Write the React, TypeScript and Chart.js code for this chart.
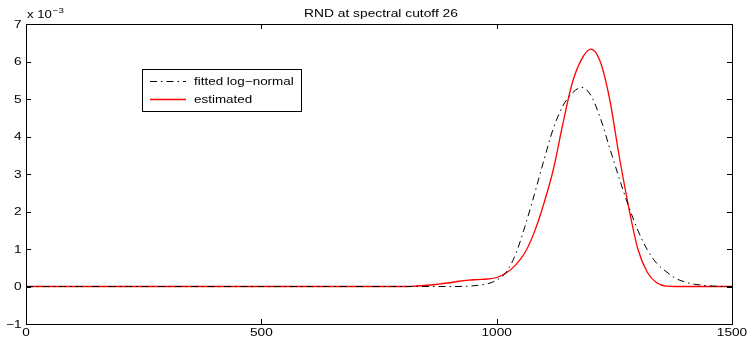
import React, { useEffect, useRef } from "react";
import { Chart, registerables } from "chart.js";

Chart.register(...registerables);

// x positions of the samples
const X_VALUES = [
  0, 100, 200, 300, 400, 500, 600, 700,
  800, 820, 840, 860, 880, 900, 920, 940, 960, 980,
  1000, 1020, 1040, 1060, 1080, 1100, 1120, 1140, 1160, 1180,
  1200, 1220, 1240, 1260, 1280, 1300, 1320, 1340, 1360, 1380,
  1400, 1420, 1440, 1460, 1480, 1500,
];

// values in units of 1e-3
const FITTED = [
  0, 0, 0, 0, 0, 0, 0, 0,
  0, 0, 0, 0, 0, 0, 0, 0.01, 0.03, 0.07,
  0.17, 0.38, 0.85, 1.6, 2.45, 3.35, 4.2, 4.8, 5.15, 5.31,
  5.1, 4.5, 3.7, 2.9, 2.15, 1.5, 0.98, 0.62, 0.4, 0.22,
  0.12, 0.06, 0.03, 0.01, 0, 0,
];

const ESTIMATED = [
  0, 0, 0, 0, 0, 0, 0, 0,
  0, 0.005, 0.02, 0.04, 0.07, 0.1, 0.14, 0.17, 0.185, 0.2,
  0.24, 0.36, 0.57, 0.9, 1.45, 2.2, 3.1, 4.3, 5.4, 6.05,
  6.33, 6.0, 5.0, 3.5, 2.15, 1.0, 0.38, 0.1, 0.01, 0,
  0, 0, 0, 0, 0, 0,
];

const X_TICKS = [0, 500, 1000, 1500];
const Y_TICKS = [-1, 0, 1, 2, 3, 4, 5, 6, 7];
const TITLE = "RND at spectral cutoff 26";
const EXPONENT_BASE = "x 10";
const EXPONENT = "\u22123";
const SERIES_LABELS = ["fitted log\u2212normal", "estimated"];

const FONT = "'Liberation Sans', Arial, Helvetica, sans-serif";

function stretchedText(
  ctx: CanvasRenderingContext2D,
  text: string,
  x: number,
  y: number,
  size: number,
  sx: number,
  align: "left" | "right" | "center",
  baseline: CanvasTextBaseline
) {
  ctx.save();
  ctx.font = `${size}px ${FONT}`;
  ctx.textBaseline = baseline;
  ctx.textAlign = "left";
  const w = ctx.measureText(text).width * sx;
  let left = x;
  if (align === "center") left = x - w / 2;
  else if (align === "right") left = x - w;
  ctx.translate(left, y);
  ctx.scale(sx, 1);
  ctx.fillText(text, 0, 0);
  ctx.restore();
  return w;
}

const fmt = (v: number) => String(v).replace("-", "\u2212");

const decorPlugin = {
  id: "decor",
  afterDraw(chart: any) {
    const { ctx, chartArea: a, scales } = chart;
    ctx.save();
    // frame
    ctx.strokeStyle = "#000";
    ctx.lineWidth = 1;
    ctx.strokeRect(Math.round(a.left) + 0.5, Math.round(a.top) + 0.5,
      Math.round(a.right - a.left), Math.round(a.bottom - a.top));
    // inward ticks on all four sides
    const tl = 5;
    ctx.beginPath();
    X_TICKS.forEach((v) => {
      const px = Math.round(scales.x.getPixelForValue(v)) + 0.5;
      ctx.moveTo(px, a.bottom);
      ctx.lineTo(px, a.bottom - tl);
      ctx.moveTo(px, a.top);
      ctx.lineTo(px, a.top + tl);
    });
    Y_TICKS.forEach((v) => {
      const py = Math.round(scales.y.getPixelForValue(v)) + 0.5;
      ctx.moveTo(a.left, py);
      ctx.lineTo(a.left + tl, py);
      ctx.moveTo(a.right, py);
      ctx.lineTo(a.right - tl, py);
    });
    ctx.stroke();

    ctx.fillStyle = "#000";
    // tick labels
    X_TICKS.forEach((v) => {
      const px = scales.x.getPixelForValue(v);
      stretchedText(ctx, fmt(v), px, a.bottom + 9.5, 10.5, 1.3, "center", "middle");
    });
    Y_TICKS.forEach((v) => {
      const py = scales.y.getPixelForValue(v);
      stretchedText(ctx, fmt(v), a.left - 4.5, py + 1, 10.5, 1.3, "right", "middle");
    });

    // title
    stretchedText(ctx, TITLE, (a.left + a.right) / 2 + 2, 17.3, 11.5, 1.2, "center", "alphabetic");

    // exponent label
    const w = stretchedText(ctx, EXPONENT_BASE, a.left + 1, 18.3, 10.5, 1.25, "left", "alphabetic");
    stretchedText(ctx, EXPONENT, a.left + 2 + w, 13, 8, 1.2, "left", "alphabetic");

    // legend
    const lx = 142, ly = 69, lw = 159, lh = 42;
    ctx.fillStyle = "#fff";
    ctx.fillRect(lx, ly, lw, lh);
    ctx.strokeStyle = "#000";
    ctx.lineWidth = 1;
    ctx.strokeRect(lx + 0.5, ly + 0.5, lw, lh);
    const ds = chart.data.datasets;
    const lineRows = [81, 99];
    const textRows = [85, 102.7];
    ds.forEach((d: any, i: number) => {
      const y = lineRows[i] + 0.5;
      ctx.save();
      ctx.strokeStyle = d.borderColor;
      ctx.lineWidth = d.borderWidth;
      ctx.setLineDash(d.borderDash || []);
      ctx.beginPath();
      ctx.moveTo(150, y);
      ctx.lineTo(186, y);
      ctx.stroke();
      ctx.restore();
      ctx.fillStyle = "#000";
      stretchedText(ctx, d.label, 194, textRows[i], 10.5, 1.28, "left", "alphabetic");
    });
    ctx.restore();
  },
};

export default function App() {
  const ref = useRef<HTMLCanvasElement | null>(null);

  useEffect(() => {
    document.body.style.margin = "0";
    const canvas = ref.current;
    if (!canvas) return;
    const chart = new Chart(canvas, {
      type: "line",
      data: {
        datasets: [
          {
            label: SERIES_LABELS[0],
            data: X_VALUES.map((x, i) => ({ x, y: FITTED[i] })),
            borderColor: "#000000",
            borderWidth: 1,
            borderDash: [7, 4, 1.5, 4],
            pointRadius: 0,
            cubicInterpolationMode: "monotone",
            fill: false,
          },
          {
            label: SERIES_LABELS[1],
            data: X_VALUES.map((x, i) => ({ x, y: ESTIMATED[i] })),
            borderColor: "#ff0000",
            borderWidth: 1.3,
            pointRadius: 0,
            cubicInterpolationMode: "monotone",
            fill: false,
          },
        ],
      },
      options: {
        animation: false,
        responsive: true,
        maintainAspectRatio: false,
        layout: { padding: { top: 24, right: 15, left: 0, bottom: 0 } },
        plugins: {
          legend: { display: false },
          title: { display: false },
          tooltip: { enabled: false },
        },
        scales: {
          x: {
            type: "linear",
            min: 0,
            max: 1500,
            grid: { display: false, drawTicks: false },
            border: { display: false },
            ticks: { display: false },
            afterBuildTicks: (s: any) => {
              s.ticks = X_TICKS.map((v) => ({ value: v }));
            },
            afterFit: (s: any) => {
              s.height = 15;
            },
          },
          y: {
            type: "linear",
            min: -1,
            max: 7,
            grid: { display: false, drawTicks: false },
            border: { display: false },
            ticks: { display: false },
            afterBuildTicks: (s: any) => {
              s.ticks = Y_TICKS.map((v) => ({ value: v }));
            },
            afterFit: (s: any) => {
              s.width = 26;
            },
          },
        },
      },
      plugins: [decorPlugin],
    });
    return () => chart.destroy();
  }, []);

  return (
    <div style={{ position: "absolute", left: 0, top: 0, width: 747, height: 339, background: "#fff" }}>
      <canvas ref={ref} />
    </div>
  );
}
